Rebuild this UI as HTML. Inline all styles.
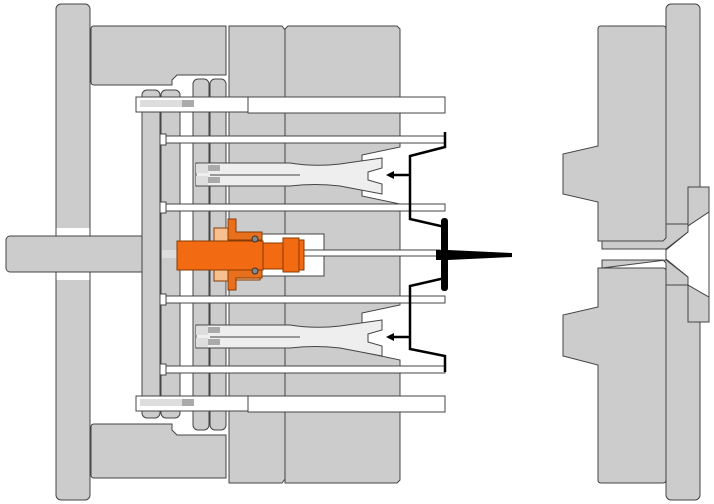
<!DOCTYPE html>
<html><head><style>body{margin:0;background:#fff}svg{display:block}</style></head><body>
<svg width="714" height="504" viewBox="0 0 714 504" xmlns="http://www.w3.org/2000/svg">
<g stroke="#444" stroke-width="1" fill="#cccccc">
<!-- left clamp plate -->
<rect x="56" y="4" width="34" height="496" rx="5"/>
<rect x="56.5" y="228" width="33" height="8" fill="#fff" stroke="none"/>
<rect x="56.5" y="272" width="33" height="8" fill="#fff" stroke="none"/>
<rect x="6" y="236" width="154" height="36" rx="4"/>
<!-- top/bottom spacer blocks -->
<path d="M94 26 H226 V75 H177 L172 80 V85 H94 Q91 85 91 82 V29 Q91 26 94 26Z"/>
<path d="M94 478 H226 V435 H177 L172 430 V424 H94 Q91 424 91 427 V475 Q91 478 94 478Z"/>
<!-- core plates -->
<path d="M229 26 H282 L285 30 V479 L282 483 H229Z"/>
<path d="M288 26 H397 L400 29 V147 L362 155 V196 L400 204 V305 L362 313 V352 L400 360 V480 L397 483 H285 V29Z"/>
<!-- ejector plates -->
<rect x="142" y="90" width="18" height="328" rx="5"/>
<rect x="161" y="90" width="19" height="328" rx="5"/>
<rect x="193" y="79" width="16" height="351" rx="5"/>
<rect x="210" y="79" width="16" height="351" rx="5"/>
<!-- right side -->
<rect x="666" y="4" width="34" height="496" rx="5"/>
<path d="M601 26 H663 Q666 26 666 29 V238 Q666 241 663 241 H598 V202 L563 194 V154 L598 146 V29 Q598 26 601 26Z"/>
<path d="M601 483 H663 Q666 483 666 480 V271 Q666 268 663 268 H598 V307 L563 315 V356 L598 365 V480 Q598 483 601 483Z"/>
<path d="M602 241 H663 L666 238 V224 H688 V232 L666 249 L602 249Z"/>
<path d="M602 260 H663 L666 263 V285 H688 V277 L666 260 L602 268Z" />
<path d="M688 187 H709 V212 L688 226 V232 L666 250 V259 L688 277 V285 L709 297 V322 H688Z"/>
<path d="M666 250 L688 232 V226 L709 212 V297 L688 285 V277 L666 259Z" fill="#fff"/>
</g>
<!-- pins -->
<g stroke="#444" stroke-width="1" fill="#fff">
<rect x="228" y="234" width="96" height="42"/>
<rect x="136" y="97" width="112" height="15"/>
<rect x="248" y="97" width="197" height="16"/>
<rect x="136" y="396" width="112" height="15"/>
<rect x="248" y="396" width="197" height="16"/>
<rect x="160" y="136" width="285" height="7"/>
<rect x="160" y="204" width="285" height="7"/>
<rect x="160" y="296" width="285" height="7"/>
<rect x="160" y="366" width="285" height="7"/>
<rect x="160" y="134" width="6" height="11"/>
<rect x="160" y="202" width="6" height="11"/>
<rect x="160" y="294" width="6" height="11"/>
<rect x="160" y="364" width="6" height="11"/>
<!-- parts -->
<path d="M196 163 H290 Q315 167 340 164 L382 158 V168 L368 172 V180 L382 184 V194 L340 186 Q315 183 290 186 H196Z" fill="#eee"/>
<path d="M196 325 H290 Q315 329 340 326 L382 320 V330 L368 334 V342 L382 346 V356 L340 348 Q315 345 290 348 H196Z" fill="#eee"/>
<line x1="210" y1="175" x2="300" y2="175"/>
<line x1="210" y1="337" x2="300" y2="337"/>
<rect x="300" y="250" width="140" height="6"/>
</g>
<g fill="#aaa"><rect x="140" y="100" width="42" height="7" fill="#ddd"/><rect x="182" y="100" width="12" height="7"/>
<rect x="140" y="399" width="42" height="7" fill="#ddd"/><rect x="182" y="399" width="12" height="7"/>
<rect x="196" y="164" width="12" height="9" fill="#ddd"/><rect x="208" y="165" width="12" height="6"/>
<rect x="196" y="176" width="12" height="9" fill="#ddd"/><rect x="208" y="177" width="12" height="6"/>
<rect x="196" y="326" width="12" height="9" fill="#ddd"/><rect x="208" y="327" width="12" height="6"/>
<rect x="196" y="338" width="12" height="9" fill="#ddd"/><rect x="208" y="339" width="12" height="6"/>
<rect x="162" y="250" width="16" height="8" fill="#ddd"/></g>
<!-- orange ejector -->
<g stroke="#8a3a00" stroke-width="1">
<path d="M214 228 H228 V219 H236 V232 H260 V280 H236 V290 H228 V281 H214Z" fill="#f7c090"/>
<path d="M228 219 H236 V232 H262 V240 H228Z M228 290 H236 V278 H262 V270 H228Z" fill="#e8701c"/>
<rect x="177" y="241" width="86" height="29" fill="#f26a12"/>
<rect x="263" y="243" width="20" height="26" fill="#f26a12"/>
<rect x="283" y="238" width="16" height="34" fill="#f26a12"/>
<rect x="299" y="240" width="5" height="30" fill="#f26a12"/>
</g>
<circle cx="255" cy="239" r="3" fill="#888" stroke="#333"/>
<circle cx="255" cy="271" r="3" fill="#888" stroke="#333"/>
<!-- ejector frame black -->
<g stroke="#000" stroke-width="2.5" fill="none">
<path d="M445 132 V147 L410 156 V219 L445 227 V233"/>
<path d="M445 372 V356 L410 349 V286 L445 278 V268"/>
<line x1="410" y1="175" x2="392" y2="175"/><line x1="410" y1="337" x2="392" y2="337"/>
</g>
<path d="M386 175 L394 171 V179Z M386 337 L394 333 V341Z"/>
<rect x="441" y="218" width="7" height="73" rx="3"/>
<path d="M436 250 H448 L512 253 V257 L448 260 H436Z"/>
</svg>
</body></html>
